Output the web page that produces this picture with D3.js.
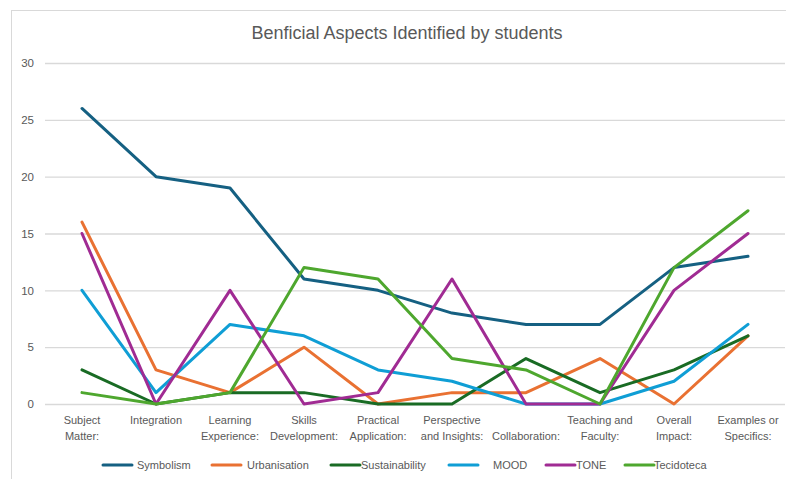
<!DOCTYPE html>
<html>
<head>
<meta charset="utf-8">
<script src="https://cdn.jsdelivr.net/npm/d3@7"></script>
<style>
  html, body { margin: 0; padding: 0; background: #fff; }
  svg { display: block; }
  text { font-family: "Liberation Sans Narrow", "Liberation Sans", sans-serif; fill: #595959; }
</style>
</head>
<body>
<svg id="chart" width="786" height="479"></svg>
<script>
// Categories along the x axis ("\n" marks a line break in the label)
const categories = [
  "Subject\nMatter:", "Integration", "Learning\nExperience:", "Skills\nDevelopment:",
  "Practical\nApplication:", "Perspective\nand Insights:", "\nCollaboration:",
  "Teaching and\nFaculty:", "Overall\nImpact:", "Examples or\nSpecifics:"
];

// Series values, one per category
const symbolism      = [26, 20, 19, 11, 10, 8, 7, 7, 12, 13];
const urbanisation   = [16, 3, 1, 5, 0, 1, 1, 4, 0, 6];
const sustainability = [3, 0, 1, 1, 0, 0, 4, 1, 3, 6];
const mood           = [10, 1, 7, 6, 3, 2, 0, 0, 2, 7];
const tone           = [15, 0, 10, 0, 1, 11, 0, 0, 10, 15];
const tecidoteca     = [1, 0, 1, 12, 11, 4, 3, 0, 12, 17];

const seriesNames = ["Symbolism", "Urbanisation", "Sustainability", "MOOD", "TONE", "Tecidoteca"];
const yTicks = [0, 5, 10, 15, 20, 25, 30];
const title = "Benficial Aspects Identified by students";

const seriesValues = [symbolism, urbanisation, sustainability, mood, tone, tecidoteca];
const colors = ["#156082", "#E97132", "#196B24", "#0F9ED5", "#A02B93", "#4EA72E"];

const svg = d3.select("#chart");

// Chart frame
svg.append("rect")
  .attr("x", 11.5).attr("y", 10.5)
  .attr("width", 800).attr("height", 500)
  .attr("fill", "#fff").attr("stroke", "#D9D9D9").attr("stroke-width", 1);

// Title
svg.append("text")
  .attr("x", 407).attr("y", 39)
  .attr("text-anchor", "middle")
  .style("font-size", "18px")
  .text(title);

const plotLeft = 45, plotRight = 785, plotTop = 63, plotBottom = 404;

const x = d3.scaleBand().domain(categories).range([plotLeft, plotRight]).paddingInner(0).paddingOuter(0);
const cx = c => x(c) + x.bandwidth() / 2;
const y = d3.scaleLinear().domain([0, 30]).range([plotBottom, plotTop]);

// Horizontal gridlines and y labels via a left axis
const yAxis = d3.axisLeft(y).tickValues(yTicks).tickSize(-(plotRight - plotLeft)).tickPadding(11);
const gy = svg.append("g").attr("transform", `translate(${plotLeft},0)`).call(yAxis);
gy.select(".domain").remove();
gy.selectAll(".tick line").attr("stroke", "#D9D9D9").attr("stroke-width", 1.3);
gy.selectAll(".tick text")
  .style("font-size", "11.5px")
  .style("font-family", "'Liberation Sans Narrow', 'Liberation Sans', sans-serif")
  .attr("fill", "#595959");

// Category labels via a bottom axis, split into two lines
const xAxis = d3.axisBottom(x).tickSize(0).tickFormat("");
const gx = svg.append("g").attr("transform", `translate(0,${plotBottom})`).call(xAxis);
gx.select(".domain").remove();
gx.selectAll(".tick").each(function (c) {
  const t = d3.select(this).append("text")
    .attr("text-anchor", "middle")
    .attr("fill", "#595959")
    .style("font-size", "11px");
  c.split("\n").forEach((line, i) => {
    t.append("tspan").attr("x", 0).attr("y", 20 + i * 16).text(line);
  });
});

// Series lines
const line = d3.line()
  .x((d, i) => cx(categories[i]))
  .y(d => y(d));

svg.append("g").selectAll("path")
  .data(seriesValues)
  .join("path")
  .attr("d", d => line(d))
  .attr("fill", "none")
  .attr("stroke", (d, i) => colors[i])
  .attr("stroke-width", 3)
  .attr("stroke-linejoin", "round")
  .attr("stroke-linecap", "round");

// Legend
const legendLineX = [103, 212, 331, 449, 546, 625];
const legendTextX = [137, 247, 361, 493, 576, 654];
const legendY = 465;
const lg = svg.append("g");
seriesNames.forEach((name, i) => {
  lg.append("line")
    .attr("x1", legendLineX[i]).attr("x2", legendLineX[i] + 29)
    .attr("y1", legendY).attr("y2", legendY)
    .attr("stroke", colors[i]).attr("stroke-width", 3).attr("stroke-linecap", "round");
  lg.append("text")
    .attr("x", legendTextX[i]).attr("y", legendY + 4)
    .style("font-size", "11px")
    .text(name);
});
</script>
</body>
</html>
